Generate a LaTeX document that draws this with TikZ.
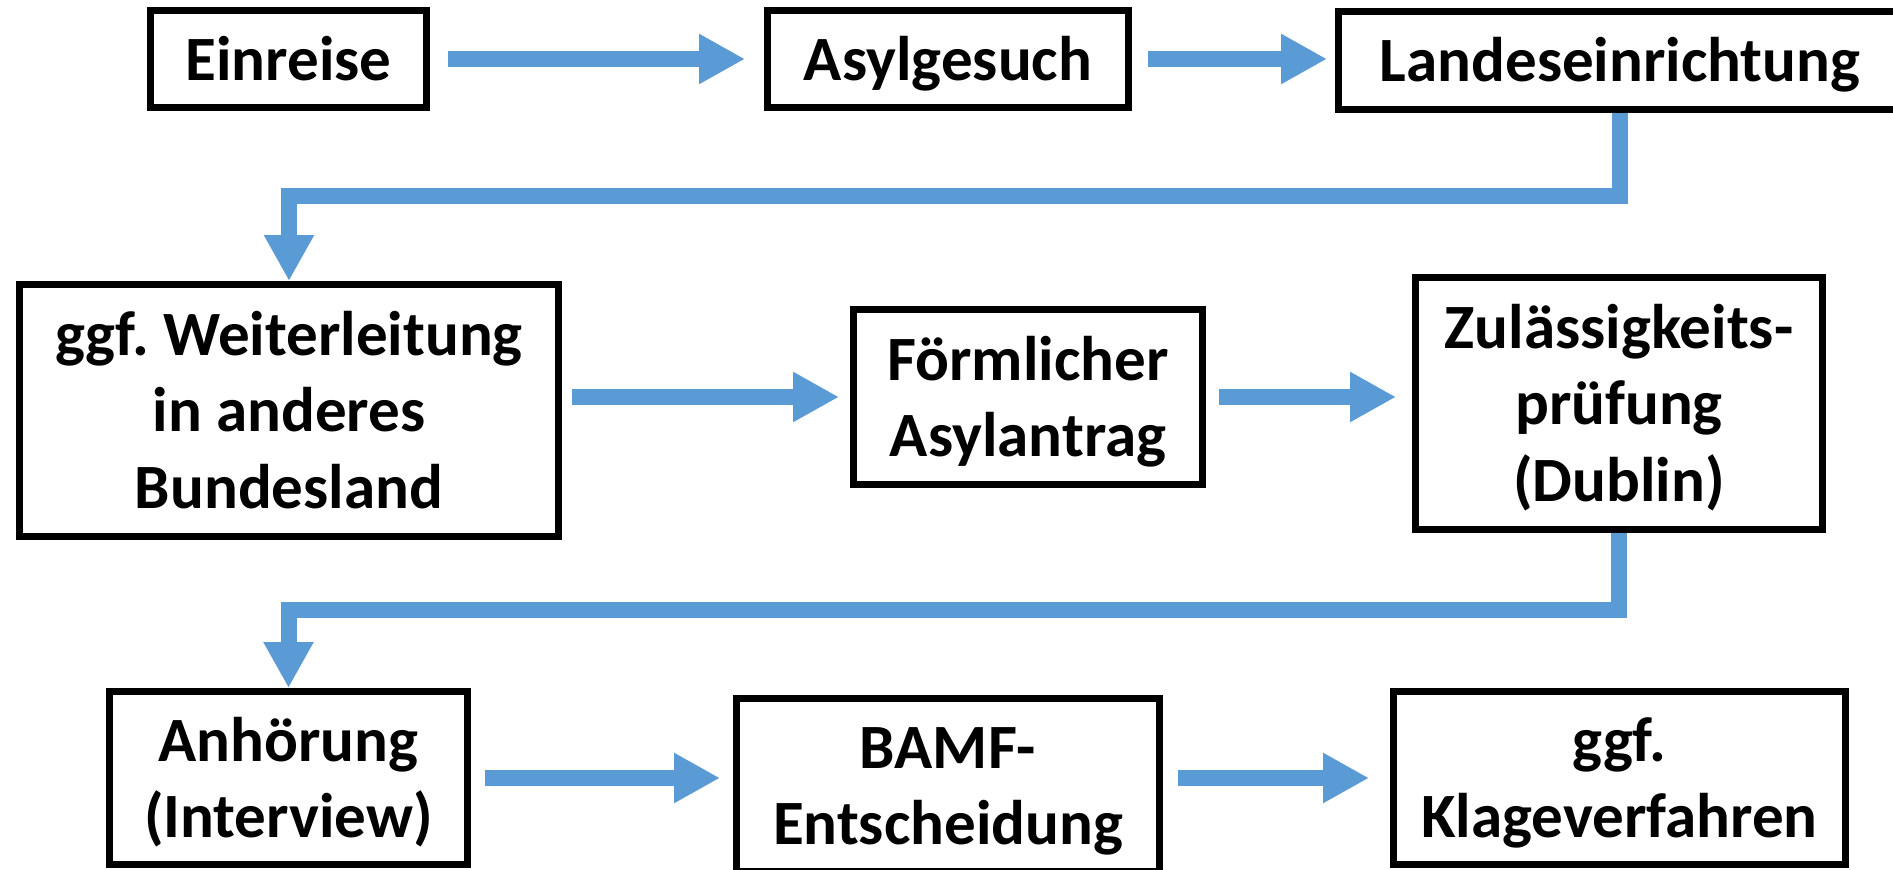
\documentclass[tikz,border=0pt]{standalone}
\usepackage{fontspec}
\setmainfont{Carlito}
\usetikzlibrary{arrows.meta}
\definecolor{flowblue}{HTML}{5B9BD5}
\frenchspacing

\begin{document}
\begin{tikzpicture}[x=0.02cm, y=0.02cm,
	box/.style={draw, line width=0.14cm, fill=white, align=center, inner sep=0pt,
		font=\fontsize{35.9pt}{43.7pt}\selectfont\bfseries,
		text height=1.2cm, text depth=0.34cm},
	two/.style={text height=2.736cm},
	three/.style={text height=4.272cm},
	flow/.style={draw=flowblue, line width=0.32cm, -{Triangle[width=0.94cm, length=0.92cm]}}]
	\clip (0,0) rectangle (1893,869);
	\node[box, minimum width=5.52cm, minimum height=1.94cm] (ein) at (288.5,810) {Einreise};
	\node[box, minimum width=7.22cm, minimum height=1.94cm] (asyl) at (948,810) {Asylgesuch};
	\node[box, minimum width=11.26cm, minimum height=1.96cm] (land) at (1620,808.5) {Landeseinrichtung};
	\node[box, three, minimum width=10.78cm, minimum height=5.04cm] (weit) at (289,458.5) {ggf. Weiterleitung\\in anderes\\Bundesland};
	\node[box, two, minimum width=6.98cm, minimum height=3.5cm] (form) at (1028,472) {Förmlicher\\Asylantrag};
	\node[box, three, minimum width=8.14cm, minimum height=5.04cm] (zul) at (1619,465.5) {Zulässigkeits-\\prüfung\\(Dublin)};
	\node[box, two, minimum width=7.16cm, minimum height=3.46cm] (anh) at (288.5,91) {Anhörung\\(Interview)};
	\node[box, two, minimum width=8.46cm, minimum height=3.46cm] (bamf) at (948,84) {BAMF-\\Entscheidung};
	\node[box, two, minimum width=9.04cm, minimum height=3.46cm] (klage) at (1619.5,91) {ggf.\\Klageverfahren};
	\coordinate (knick1) at (0,673);
	\coordinate (knick2) at (0,259);
	\draw[flow, shorten <=0.36cm, shorten >=0.38cm] (ein) -- (asyl);
	\draw[flow, shorten <=0.33cm, shorten >=0.16cm] (asyl.east) -- (asyl.east -| land.west);
	\draw[flow] (land.south) -- (land.south |- knick1) -| (weit.north);
	\draw[flow, shorten <=0.21cm, shorten >=0.22cm] (weit.east |- form.west) -- (form.west);
	\draw[flow, shorten <=0.27cm, shorten >=0.32cm] (form.east) -- (form.east -| zul.west);
	\draw[flow] (zul.south) -- (zul.south |- knick2) -| (anh.north);
	\draw[flow, shorten <=0.28cm, shorten >=0.26cm] (anh.east) -- (anh.east -| bamf.west);
	\draw[flow, shorten <=0.3cm, shorten >=0.42cm] (klage.west -| bamf.east) -- (klage.west);
\end{tikzpicture}
\end{document}
